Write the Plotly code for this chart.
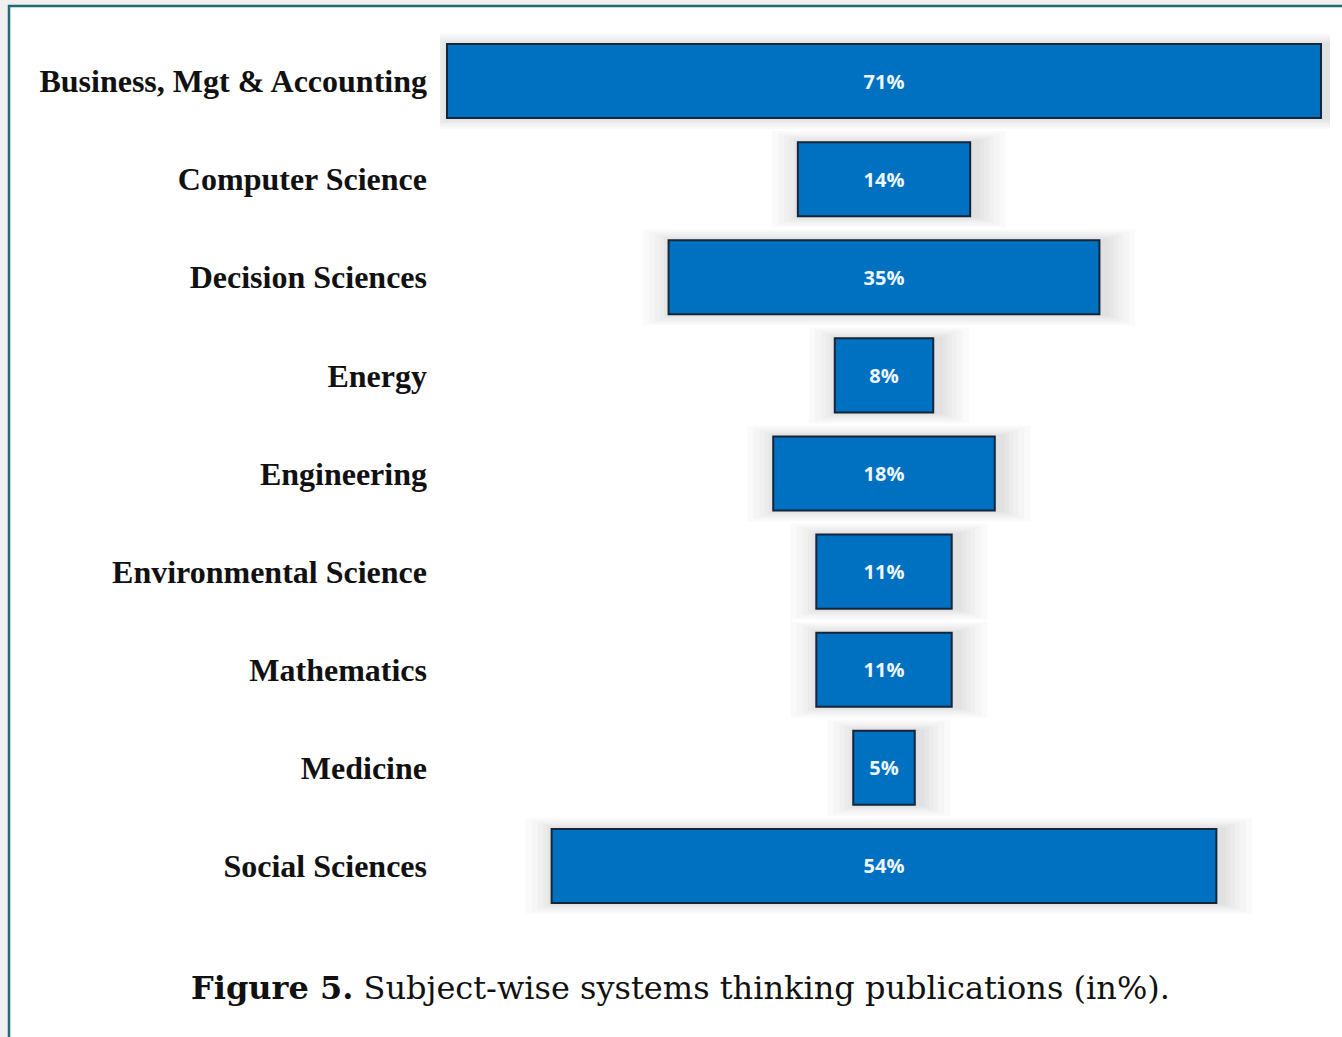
import plotly.graph_objects as go

categories = ["Business, Mgt & Accounting", "Computer Science", "Decision Sciences",
              "Energy", "Engineering", "Environmental Science", "Mathematics",
              "Medicine", "Social Sciences"]
values = [71, 14, 35, 8, 18, 11, 11, 5, 54]
labels = [f"{v}%" for v in values]

W, H = 1342, 1037
L, R, T, B = 440, 12, 32, 122
pw, ph = W - L - R, H - T - B

def px_x(px):
    return (px - L) / pw

def px_y(py):
    return (H - B - py) / ph

fig = go.Figure()

# soft glow / shadow behind bars
for grow in [5.0, 4.0, 3.0, 2.2, 1.5, 0.8]:
    fig.add_trace(go.Bar(
        y=categories, x=[v + grow for v in values],
        base=[-v / 2 - grow / 2 + 0.4 for v in values],
        orientation="h", width=min(0.755 + grow * 0.045, 0.99),
        marker=dict(color="rgba(110,110,110,0.035)", line=dict(width=0)),
        hoverinfo="skip", showlegend=False,
    ))

fig.add_trace(go.Bar(
    y=categories, x=values, base=[-v / 2 for v in values],
    orientation="h", width=0.755,
    marker=dict(color="#0070C0", line=dict(color="#15253a", width=2)),
    text=labels, textposition="inside", insidetextanchor="middle",
    textfont=dict(family="Open Sans", size=20, color="#eef6ff", weight="bold"),
    textangle=0, showlegend=False,
))

fig.update_layout(
    width=W, height=H, barmode="overlay",
    margin=dict(l=L, r=R, t=T, b=B),
    paper_bgcolor="#f0f0f0", plot_bgcolor="rgba(0,0,0,0)",
    xaxis=dict(range=[(440 - 884) / 12.31, (1330 - 884) / 12.31], visible=False,
               showgrid=False, zeroline=False),
    yaxis=dict(autorange="reversed", showgrid=False, zeroline=False, showline=False,
               ticks="", ticklabelstandoff=12,
               tickfont=dict(family="Liberation Serif", size=32, color="#111111", weight="bold")),
    shapes=[dict(type="rect", xref="paper", yref="paper", layer="below",
                 x0=px_x(9), x1=px_x(1400), y0=px_y(1100), y1=px_y(6),
                 fillcolor="white", line=dict(color="#1f6b78", width=2.5))],
    annotations=[dict(xref="paper", yref="paper", x=px_x(680), y=px_y(988),
                      xanchor="center", yanchor="middle", showarrow=False,
                      text="<b>Figure 5.</b> Subject-wise systems thinking publications (in%).",
                      font=dict(family="DejaVu Serif", size=32, color="#111111"))],
)

fig.write_html("out.html", config={"displayModeBar": False},
               post_script="document.body.style.margin='0';document.body.style.padding='0';")
